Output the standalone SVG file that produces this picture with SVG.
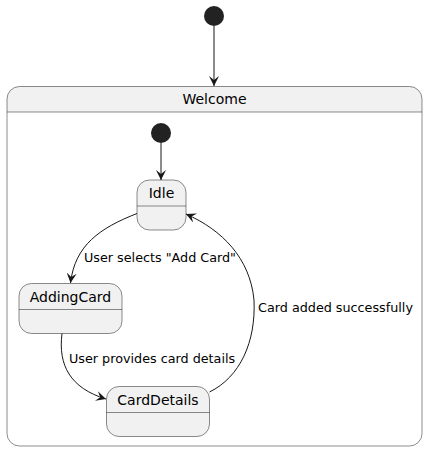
<svg xmlns="http://www.w3.org/2000/svg" width="428" height="451" viewBox="0 0 428 451">
<style>
.st{fill:#F1F1F1;stroke:#181818;stroke-width:0.5}
.sep{stroke:#181818;stroke-width:0.5}
.init{fill:#222222}
.t{font-family:"DejaVu Sans",sans-serif;font-size:14px;fill:#000000}
.lbl{font-family:"DejaVu Sans",sans-serif;font-size:12.75px;fill:#000000}
.c{fill:none;stroke:#181818;stroke-width:1}
</style>
<defs>
<marker id="ah" viewBox="0 0 10 10" refX="10" refY="5" markerWidth="10" markerHeight="10" markerUnits="userSpaceOnUse" orient="auto">
<path d="M0,0 L10,5 L0,10 L4,5 z" fill="#181818"/>
</marker>
</defs>
<g id="start-outer"><circle class="init" cx="214" cy="16" r="10"/></g>
<g id="Welcome">
<rect x="7" y="86.5" width="415" height="359.5" rx="12.5" ry="12.5" fill="#FFFFFF" stroke="none"/>
<path d="M7,112 L7,99 A12.5,12.5 0 0 1 19.5,86.5 L409.5,86.5 A12.5,12.5 0 0 1 422,99 L422,112 Z" fill="#F1F1F1"/>
<rect x="7" y="86.5" width="415" height="359.5" rx="12.5" ry="12.5" fill="none" stroke="#181818" stroke-width="0.5"/>
<line class="sep" x1="7" y1="112" x2="422" y2="112"/>
<text class="t" x="214.5" y="104" text-anchor="middle">Welcome</text>
</g>
<g id="start-inner"><circle class="init" cx="161" cy="133" r="10"/></g>
<g id="Idle">
<rect class="st" x="137" y="180" width="49" height="50" rx="12.5" ry="12.5"/>
<line class="sep" x1="137" y1="206" x2="186" y2="206"/>
<text class="t" x="161.5" y="198" text-anchor="middle">Idle</text>
</g>
<g id="AddingCard">
<rect class="st" x="19" y="283.5" width="103" height="50" rx="12.5" ry="12.5"/>
<line class="sep" x1="19" y1="309.5" x2="122" y2="309.5"/>
<text class="t" x="70.5" y="302" text-anchor="middle">AddingCard</text>
</g>
<g id="CardDetails">
<rect class="st" x="106.5" y="386.5" width="103" height="50" rx="12.5" ry="12.5"/>
<line class="sep" x1="106.5" y1="412.5" x2="209.5" y2="412.5"/>
<text class="t" x="158" y="405" text-anchor="middle">CardDetails</text>
</g>
<g id="connectors">
<path class="c" marker-end="url(#ah)" d="M214,26 L214,86"/>
<path class="c" marker-end="url(#ah)" d="M161,143 L161,180"/>
<path class="c" marker-end="url(#ah)" d="M137,213.5 C100,228 75,245 70.5,283"/>
<text class="lbl" x="84" y="262">User selects "Add Card"</text>
<path class="c" marker-end="url(#ah)" d="M62,333.5 C58,365 70,388 106,399"/>
<text class="lbl" x="69" y="363">User provides card details</text>
<path class="c" marker-end="url(#ah)" d="M209.5,392 C240,377 256,342 254,300 C250,258 222,230 186,214"/>
<text class="lbl" x="258" y="312">Card added successfully</text>
</g>
</svg>
